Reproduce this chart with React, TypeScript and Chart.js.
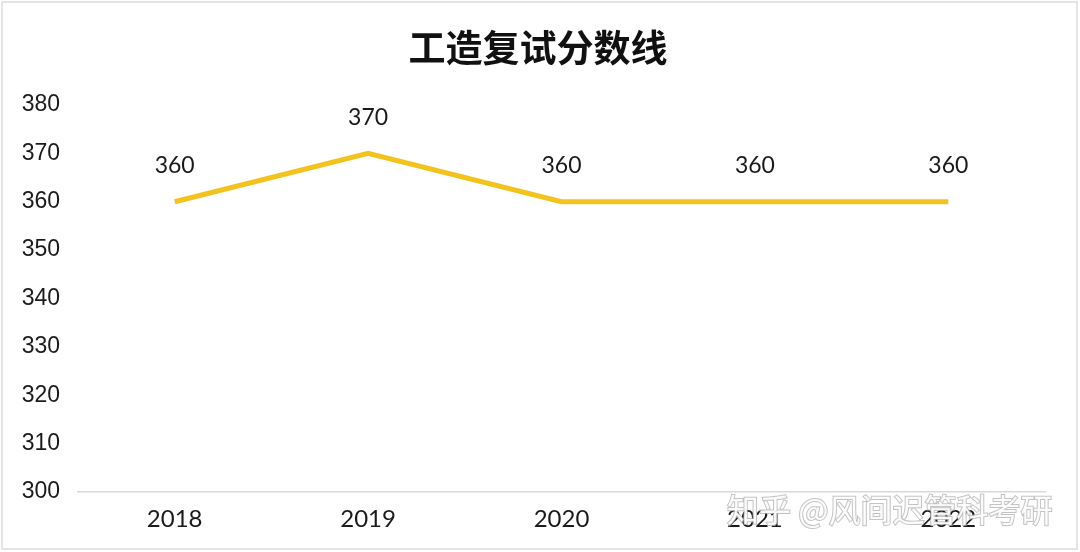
import React, { useEffect, useRef } from "react";
import { Chart, registerables } from "chart.js";

Chart.register(...registerables);

const years = ["2018", "2019", "2020", "2021", "2022"];
const scores = [360, 370, 360, 360, 360];
const yTicks = [300, 310, 320, 330, 340, 350, 360, 370, 380];
const titleText = "工造复试分数线";
const watermark = "知乎 @风间迟管科考研";

export default function App() {
  const ref = useRef<HTMLCanvasElement | null>(null);
  useEffect(() => {
    if (!ref.current) return;
    const decor = {
      id: "decor",
      beforeDraw(chart: any) {
        const ctx = chart.ctx;
        ctx.save();
        ctx.fillStyle = "#fff";
        ctx.fillRect(0, 0, chart.width, chart.height);
        ctx.strokeStyle = "#dcdcdc";
        ctx.lineWidth = 1.5;
        ctx.strokeRect(2, 2, chart.width - 5, chart.height - 5);
        ctx.fillStyle = "#111";
        ctx.font = "bold 37px 'Noto Sans CJK SC'";
        ctx.textAlign = "center";
        ctx.textBaseline = "middle";
        ctx.fillText(titleText, 538, 48);
        ctx.restore();
      },
      afterDraw(chart: any) {
        const ctx = chart.ctx;
        const meta = chart.getDatasetMeta(0);
        ctx.save();
        ctx.fillStyle = "#1a1a1a";
        ctx.font = "23px 'Lato'";
        ctx.textAlign = "center";
        ctx.textBaseline = "middle";
        meta.data.forEach((pt: any, i: number) => {
          ctx.fillText(String(scores[i]), pt.x, pt.y - 36);
        });
        ctx.font = "32px 'Noto Sans CJK SC'";
        ctx.textAlign = "left";
        ctx.textBaseline = "middle";
        ctx.lineWidth = 2;
        ctx.strokeStyle = "rgba(175,175,175,0.75)";
        ctx.strokeText(watermark, 727, 510);
        ctx.fillStyle = "rgba(255,255,255,0.92)";
        ctx.fillText(watermark, 727, 510);
        ctx.restore();
      },
    };
    const chart = new Chart(ref.current, {
      type: "line",
      data: {
        labels: years,
        datasets: [
          {
            data: scores,
            borderColor: "#F4C21C",
            borderWidth: 5,
            pointRadius: 0,
            tension: 0,
            fill: false,
          },
        ],
      },
      options: {
        responsive: false,
        animation: false,
        layout: { padding: { top: 105, right: 35, left: 0, bottom: 0 } },
        plugins: { legend: { display: false }, title: { display: false }, tooltip: { enabled: false } },
        scales: {
          x: {
            offset: true,
            grid: { display: false, drawTicks: false },
            border: { display: true, color: "#d9d9d9", width: 1.5 },
            ticks: { color: "#1a1a1a", font: { family: "Lato", size: 24 }, padding: 13 },
            afterFit: (s: any) => { s.height = 60; },
          },
          y: {
            min: 300,
            max: 380,
            grid: { display: false, drawTicks: false },
            border: { display: false },
            afterBuildTicks: (s: any) => { s.ticks = yTicks.map((v) => ({ value: v })); },
            ticks: { color: "#1a1a1a", font: { family: "Liberation Sans", size: 23 }, padding: 18 },
            afterFit: (s: any) => { s.width = 78; },
          },
        },
      },
      plugins: [decor],
    });
    return () => chart.destroy();
  }, []);
  return (
    <div style={{ position: "fixed", left: 0, top: 0, width: 1080, height: 552, background: "#fff" }}>
      <canvas ref={ref} width={1080} height={552} />
    </div>
  );
}
